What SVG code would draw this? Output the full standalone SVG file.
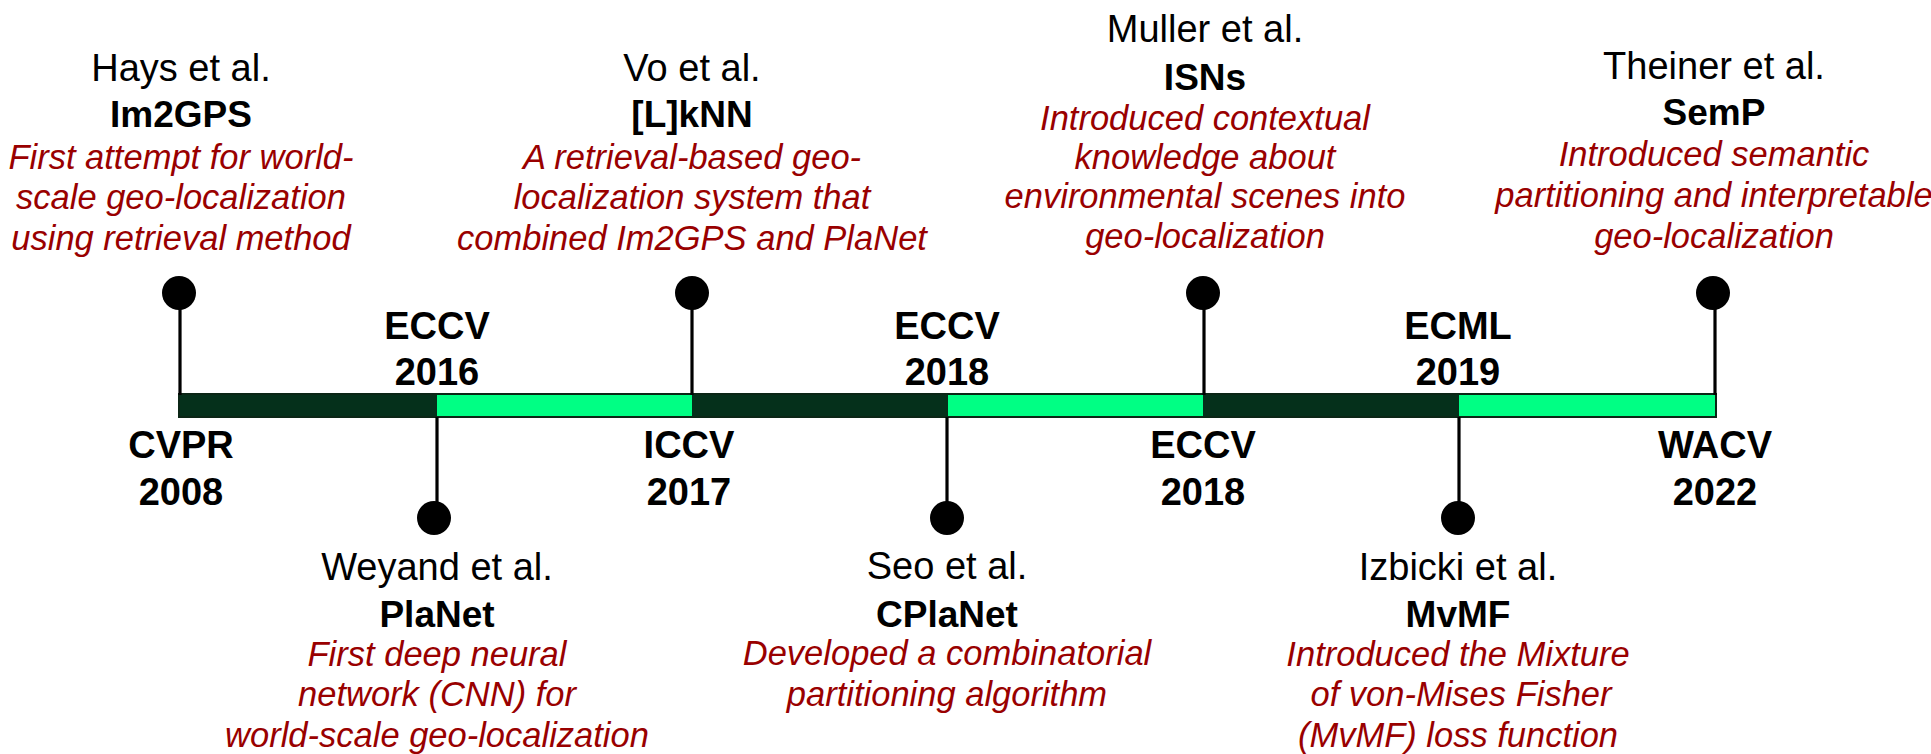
<svg xmlns="http://www.w3.org/2000/svg" width="1931" height="754" viewBox="0 0 1931 754">
<style>
text{font-family:"Liberation Sans",Arial,Helvetica,sans-serif;text-anchor:middle}
.n{font-size:38px;fill:#000}
.t{font-size:37px;font-weight:bold;fill:#000}
.d{font-size:34.5px;font-style:italic;fill:#990000}
.c{font-size:38px;font-weight:bold;fill:#000}
.stem{stroke:#000;stroke-width:3.2;fill:none}
.dot{fill:#000}
.dk{fill:#05301b}
.gr{fill:#00ff84}
</style>
<rect width="1931" height="754" fill="#fff"/>
<g id="timeline">
<rect class="dk" x="179" y="394" width="258" height="23"/>
<rect class="gr" x="437" y="394" width="255" height="23"/>
<rect class="dk" x="692" y="394" width="256" height="23"/>
<rect class="gr" x="948" y="394" width="255" height="23"/>
<rect class="dk" x="1203" y="394" width="256" height="23"/>
<rect class="gr" x="1459" y="394" width="257" height="23"/>
<rect x="179" y="394" width="1537" height="23" fill="none" stroke="#0b2616" stroke-width="2"/>
</g>
<g id="connectors">
<line class="stem" x1="180" y1="293" x2="180" y2="395"/>
<line class="stem" x1="437" y1="417" x2="437" y2="518"/>
<line class="stem" x1="692" y1="293" x2="692" y2="395"/>
<line class="stem" x1="947" y1="417" x2="947" y2="518"/>
<line class="stem" x1="1204" y1="293" x2="1204" y2="395"/>
<line class="stem" x1="1459" y1="417" x2="1459" y2="518"/>
<line class="stem" x1="1715" y1="293" x2="1715" y2="395"/>
<circle class="dot" cx="179" cy="293" r="17"/>
<circle class="dot" cx="434" cy="518" r="17"/>
<circle class="dot" cx="692" cy="293" r="17"/>
<circle class="dot" cx="947" cy="518" r="17"/>
<circle class="dot" cx="1203" cy="293" r="17"/>
<circle class="dot" cx="1458" cy="518" r="17"/>
<circle class="dot" cx="1713" cy="293" r="17"/>
</g>
<g id="venues">
<text class="c" x="181" y="458">CVPR</text><text class="c" x="181" y="505">2008</text>
<text class="c" x="437" y="339">ECCV</text><text class="c" x="437" y="385">2016</text>
<text class="c" x="689" y="458">ICCV</text><text class="c" x="689" y="505">2017</text>
<text class="c" x="947" y="339">ECCV</text><text class="c" x="947" y="385">2018</text>
<text class="c" x="1203" y="458">ECCV</text><text class="c" x="1203" y="505">2018</text>
<text class="c" x="1458" y="339">ECML</text><text class="c" x="1458" y="385">2019</text>
<text class="c" x="1715" y="458">WACV</text><text class="c" x="1715" y="505">2022</text>
</g>
<g id="hays">
<text class="n" x="181" y="81">Hays et al.</text>
<text class="t" x="181" y="127">Im2GPS</text>
<text class="d" x="181" y="169">First attempt for world-</text>
<text class="d" x="181" y="209">scale geo-localization</text>
<text class="d" x="181" y="250">using retrieval method</text>
</g>
<g id="weyand">
<text class="n" x="437" y="580">Weyand et al.</text>
<text class="t" x="437" y="627">PlaNet</text>
<text class="d" x="437" y="666">First deep neural</text>
<text class="d" x="437" y="706">network (CNN) for</text>
<text class="d" x="437" y="747">world-scale geo-localization</text>
</g>
<g id="vo">
<text class="n" x="692" y="81">Vo et al.</text>
<text class="t" x="692" y="127">[L]kNN</text>
<text class="d" x="692" y="169">A retrieval-based geo-</text>
<text class="d" x="692" y="209">localization system that</text>
<text class="d" x="692" y="250">combined Im2GPS and PlaNet</text>
</g>
<g id="seo">
<text class="n" x="947" y="579">Seo et al.</text>
<text class="t" x="947" y="627">CPlaNet</text>
<text class="d" x="947" y="665">Developed a combinatorial</text>
<text class="d" x="947" y="706">partitioning algorithm</text>
</g>
<g id="muller">
<text class="n" x="1205" y="42">Muller et al.</text>
<text class="t" x="1205" y="90">ISNs</text>
<text class="d" x="1205" y="130">Introduced contextual</text>
<text class="d" x="1205" y="169">knowledge about</text>
<text class="d" x="1205" y="208">environmental scenes into</text>
<text class="d" x="1205" y="248">geo-localization</text>
</g>
<g id="izbicki">
<text class="n" x="1458" y="580">Izbicki et al.</text>
<text class="t" x="1458" y="627">MvMF</text>
<text class="d" x="1458" y="666">Introduced the Mixture</text>
<text class="d" x="1461" y="706">of von-Mises Fisher</text>
<text class="d" x="1458" y="747">(MvMF) loss function</text>
</g>
<g id="theiner">
<text class="n" x="1714" y="79">Theiner et al.</text>
<text class="t" x="1714" y="125">SemP</text>
<text class="d" x="1714" y="166">Introduced semantic</text>
<text class="d" x="1714" y="207">partitioning and interpretable</text>
<text class="d" x="1714" y="248">geo-localization</text>
</g>
</svg>
